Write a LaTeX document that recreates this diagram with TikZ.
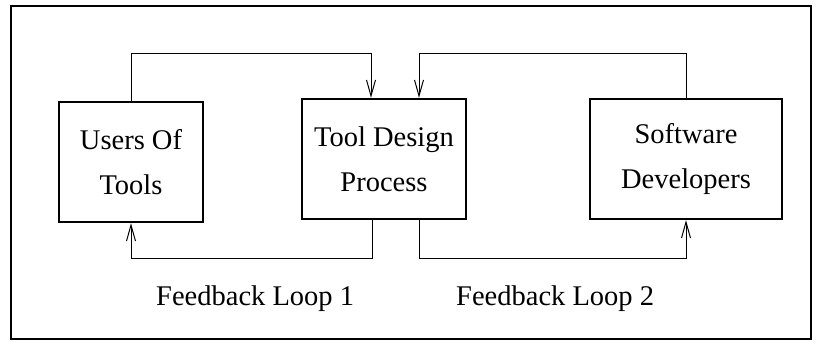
\documentclass[tikz,border=0pt]{standalone}
\usepackage{fontspec}
\setmainfont{Liberation Serif}
\usetikzlibrary{arrows.meta}

\begin{document}
\begin{tikzpicture}[x=1pt,y=-1pt,
  box/.style={draw, line width=2.4pt, inner sep=0pt, align=center,
    minimum height=120pt, font=\fontsize{28.5}{45}\selectfont},
  conn/.style={line width=1pt, -{Straight Barb[length=16pt,width=9pt]}},
  lbl/.style={anchor=base west, inner sep=0pt, font=\fontsize{28.5}{34}\selectfont}]
  \useasboundingbox (0,0) rectangle (816,341);
  % outer frame
  \draw[line width=2pt] (11,6) rectangle (811,339);

  % the three boxes
  \node[box, minimum width=144pt] (u) at (131,162) {Users Of\\Tools};
  \node[box, minimum width=164pt] (t) at (384,159) {Tool Design\\Process};
  \node[box, minimum width=192pt] (s) at (686,159) {Software\\Developers};

  % rails for the loops
  \coordinate (topy) at (0,53);
  \coordinate (boty) at (0,258);

  % loops over the top
  \draw[conn] (u.north) -- (u.north |- topy) -| ([xshift=-13pt]t.north);
  \draw[conn] (s.north) -- (s.north |- topy) -| ([xshift=35pt]t.north);

  % loops underneath
  \draw[conn] ([xshift=-12pt]t.south) -- ([xshift=-12pt]t.south |- boty) -| (u.south);
  \draw[conn] ([xshift=35pt]t.south) -- ([xshift=35pt]t.south |- boty) -| (s.south);

  % loop labels
  \node[lbl] (l1) at (156,305) {Feedback Loop 1};
  \node[lbl] (l2) at (456,305) {Feedback Loop 2};
\end{tikzpicture}
\end{document}
